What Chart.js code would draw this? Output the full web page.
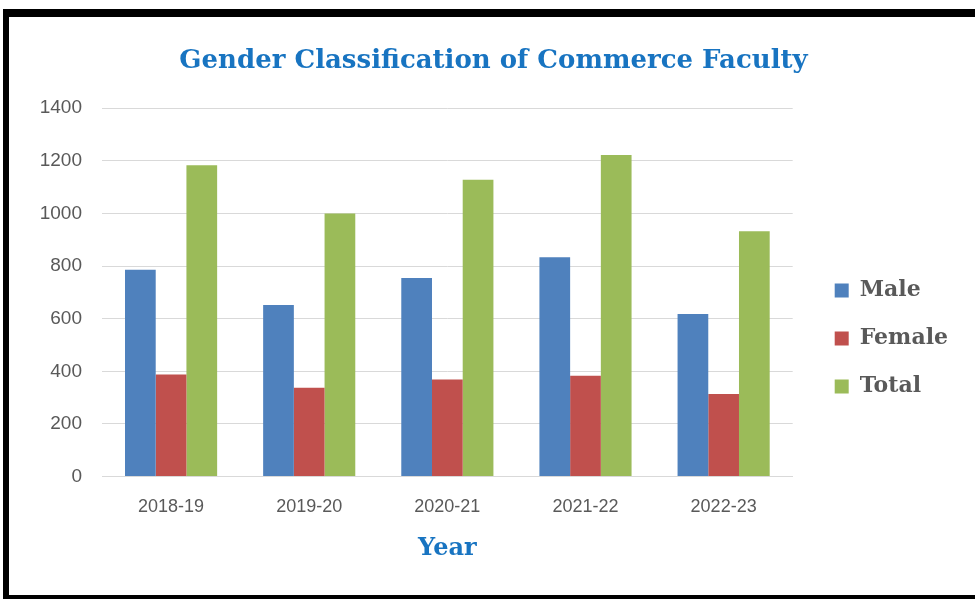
<!DOCTYPE html>
<html>
<head>
<meta charset="utf-8">
<script src="https://cdn.jsdelivr.net/npm/chart.js@4.4.1/dist/chart.umd.min.js"></script>
<style>
  html, body { margin: 0; padding: 0; background: #fff; }
  #wrap { position: relative; width: 975px; height: 599px; overflow: hidden; }
  #chart { position: absolute; left: 0; top: 0; }
  #frame {
    position: absolute; left: 3px; top: 9px; width: 1000px; height: 578px;
    border-top: 8px solid #000; border-left: 6px solid #000; border-bottom: 6px solid #000;
    pointer-events: none;
  }
</style>
</head>
<body>
<div id="wrap">
  <canvas id="chart" width="975" height="599"></canvas>
  <div id="frame"></div>
</div>
<script>
// data
var years = ['2018-19', '2019-20', '2020-21', '2021-22', '2022-23'];
var male = [786, 652, 755, 834, 618];
var female = [388, 338, 369, 383, 314];
var total = [1183, 1000, 1128, 1222, 932];

var blue = '#1874C1';
var grey = '#595959';

var ctx = document.getElementById('chart').getContext('2d');
var chart = new Chart(ctx, {
  type: 'bar',
  data: {
    labels: years,
    datasets: [
      { label: 'Male', data: male, backgroundColor: '#4F81BD' },
      { label: 'Female', data: female, backgroundColor: '#C0504D' },
      { label: 'Total', data: total, backgroundColor: '#9BBB59' }
    ]
  },
  options: {
    responsive: false,
    animation: false,
    categoryPercentage: 0.667,
    barPercentage: 1.0,
    layout: { padding: { left: 29, right: 17, top: 20, bottom: 36 } },
    plugins: {
      title: {
        display: true,
        text: 'Gender Classification of Commerce Faculty',
        color: blue,
        font: { family: 'DejaVu Serif', weight: 'bold', size: 26 },
        padding: { top: 26, bottom: 31 }
      },
      legend: {
        position: 'right',
        // blank title only pushes the entries down to where they sit in the picture
        title: { display: true, text: ' ', font: { size: 10 }, padding: { top: 41, bottom: 41 } },
        labels: {
          boxWidth: 14,
          boxHeight: 14,
          color: grey,
          padding: 26,
          font: { family: 'DejaVu Serif', weight: 'bold', size: 22 }
        }
      },
      tooltip: { enabled: false }
    },
    scales: {
      x: {
        grid: { display: false },
        border: { color: '#d9d9d9' },
        ticks: { color: grey, padding: 12, font: { family: 'Liberation Sans', size: 18 } },
        title: {
          display: true,
          text: 'Year',
          color: blue,
          font: { family: 'DejaVu Serif', weight: 'bold', size: 24 },
          padding: { top: 4, bottom: 0 }
        }
      },
      y: {
        min: 0,
        max: 1400,
        ticks: {
          stepSize: 200,
          color: grey,
          padding: 20,
          font: { family: 'Liberation Sans', size: 19 },
          callback: function (v) { return String(v); }
        },
        grid: { color: '#d9d9d9', drawTicks: false },
        border: { display: false },
        afterFit: function (s) { s.width = 73; }
      },
      // empty spacer between plot and legend
      gap: {
        position: 'right',
        display: true,
        grid: { display: false },
        border: { display: false },
        ticks: { display: false },
        afterFit: function (s) { s.width = 16; }
      }
    }
  }
});
</script>
</body>
</html>
